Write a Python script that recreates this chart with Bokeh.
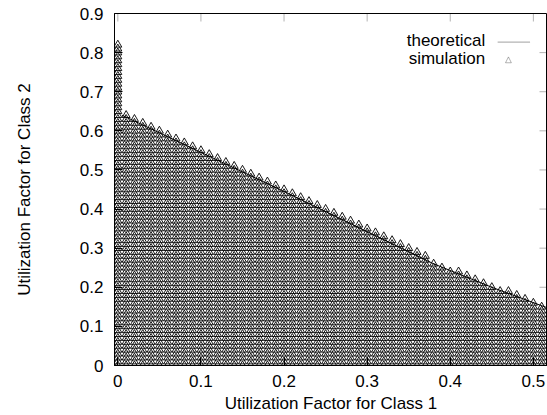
import numpy as np
from bokeh.plotting import figure
from bokeh.models import Range1d, Label, PolyAnnotation, FixedTicker, ColumnDataSource
from bokeh.embed import file_html
from bokeh.resources import INLINE

# ---- data ----
# simulation grid columns (utilization factor class 1)
col_x = [0.00, 0.01, 0.02, 0.03, 0.04, 0.05, 0.06, 0.07, 0.08, 0.09,
         0.10, 0.11, 0.12, 0.13, 0.14, 0.15, 0.16, 0.17, 0.18, 0.19,
         0.20, 0.21, 0.22, 0.23, 0.24, 0.25, 0.26, 0.27, 0.28, 0.29,
         0.30, 0.31, 0.32, 0.33, 0.34, 0.35, 0.36, 0.37, 0.38, 0.39,
         0.40, 0.41, 0.42, 0.43, 0.44, 0.45, 0.46, 0.47, 0.48, 0.49,
         0.50, 0.51, 0.52]
# highest feasible class-2 utilization in each column
col_top = [0.82, 0.64, 0.63, 0.62, 0.61, 0.60, 0.59, 0.58, 0.57, 0.56,
           0.55, 0.54, 0.53, 0.52, 0.51, 0.50, 0.49, 0.48, 0.47, 0.46,
           0.45, 0.44, 0.43, 0.42, 0.41, 0.40, 0.39, 0.38, 0.37, 0.36,
           0.35, 0.34, 0.33, 0.32, 0.31, 0.30, 0.29, 0.28, 0.26, 0.25,
           0.24, 0.24, 0.23, 0.22, 0.21, 0.20, 0.19, 0.19, 0.18, 0.17,
           0.16, 0.15, 0.15]
grid_step = 0.01

# theoretical boundary (mostly hidden under the simulation points)
theo_x = [0.005, 0.20, 0.38, 0.45, 0.52]
theo_y = [0.64, 0.445, 0.26, 0.20, 0.145]

x_ticks = [0, 0.1, 0.2, 0.3, 0.4, 0.5]
y_ticks = [0, 0.1, 0.2, 0.3, 0.4, 0.5, 0.6, 0.7, 0.8, 0.9]

# expand grid columns into simulation points
sim_x, sim_y = [], []
for cx, top in zip(col_x, col_top):
    n = int(round(top / grid_step))
    for k in range(n + 1):
        sim_x.append(cx)
        sim_y.append(round(k * grid_step, 2))
src = ColumnDataSource(dict(x=sim_x, y=sim_y))

FONT = "Liberation Sans"
X0, X1, Y0, Y1 = -0.004, 0.517, 0.0, 0.9

p = figure(width=547, height=415, output_backend="svg", toolbar_location=None,
           x_range=Range1d(X0, X1), y_range=Range1d(Y0, Y1),
           min_border_left=114, min_border_right=0, min_border_top=13, min_border_bottom=50)
p.background_fill_color = "white"
p.border_fill_color = "white"
p.outline_line_color = "black"
p.outline_line_width = 1
p.xgrid.visible = False
p.ygrid.visible = False

p.scatter("x", "y", source=src, marker="triangle", size=8, fill_color=None,
          line_color="black", line_width=1.0, line_alpha=0.9)
p.line(theo_x, theo_y, line_color="black", line_width=1)

for ax in (p.xaxis[0], p.yaxis[0]):
    ax.major_tick_in = 8
    ax.major_tick_out = 0
    ax.minor_tick_line_color = None
    ax.axis_line_color = "black"
    ax.major_label_text_font = FONT
    ax.major_label_text_font_size = "17px"
    ax.major_label_text_color = "black"
    ax.axis_label_text_font = FONT
    ax.axis_label_text_font_size = "17px"
    ax.axis_label_text_font_style = "normal"
    ax.axis_label_text_color = "black"

p.xaxis.ticker = FixedTicker(ticks=x_ticks)
p.yaxis.ticker = FixedTicker(ticks=y_ticks)
p.xaxis.axis_label = "Utilization Factor for Class 1"
p.yaxis.axis_label = "Utilization Factor for Class 2"
p.xaxis.major_label_standoff = 9
p.xaxis.axis_label_standoff = 4
p.yaxis.major_label_standoff = 11
p.yaxis.axis_label_standoff = 43

# mirror ticks on the top and right borders (gnuplot style, pointing inward)
tick_dx = 8 / 832.0
tick_dy = 8 / 391.0
for t in x_ticks:
    p.add_layout(PolyAnnotation(xs=[t, t], ys=[Y1, Y1 - tick_dy], fill_alpha=0,
                                line_color="black", line_width=1))
for t in y_ticks:
    p.add_layout(PolyAnnotation(xs=[X1, X1 - tick_dx], ys=[t, t], fill_alpha=0,
                                line_color="black", line_width=1))

# legend (gnuplot style: label left, sample right)
for txt, yy in (("theoretical", 0.831), ("simulation", 0.784)):
    p.add_layout(Label(x=0.442, y=yy, text=txt, text_align="right", text_baseline="middle",
                       text_font=FONT, text_font_size="17px", text_color="black"))
p.add_layout(PolyAnnotation(xs=[0.457, 0.496], ys=[0.827, 0.827],
                            fill_alpha=0, line_color="black", line_width=1.3))
p.add_layout(PolyAnnotation(xs=[0.4665, 0.4735, 0.470], ys=[0.774, 0.774, 0.789],
                            fill_alpha=0, line_color="black", line_width=1))

open("out.html", "w").write(file_html(p, INLINE))
